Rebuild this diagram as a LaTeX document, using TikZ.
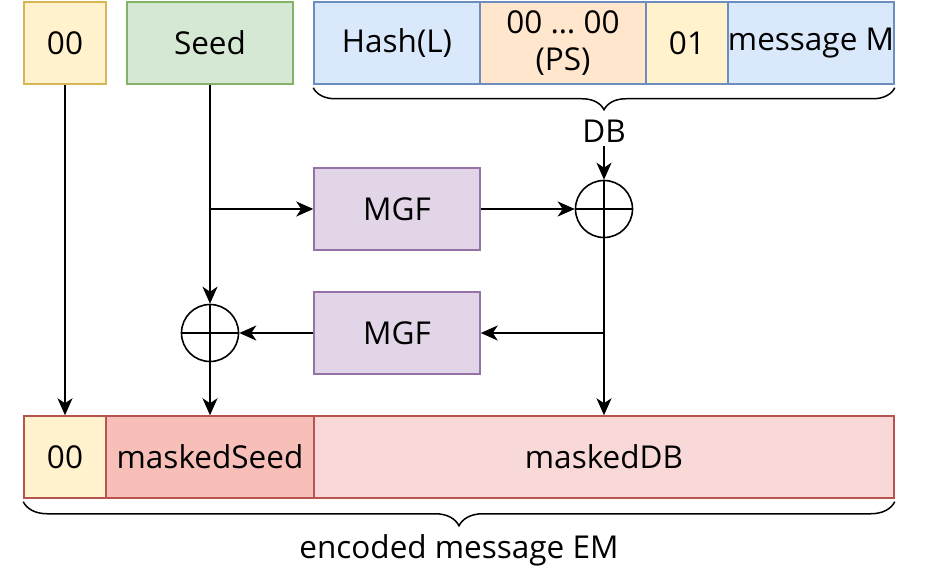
\documentclass[tikz,border=0pt]{standalone}
\usepackage{fontspec}
\setmainfont{Open Sans}
\usepackage{xcolor}
\usepackage{tikz}
\usetikzlibrary{arrows.meta,decorations.pathreplacing}

\definecolor{yelfill}{HTML}{FFF2CC}
\definecolor{yelline}{HTML}{D6B656}
\definecolor{grnfill}{HTML}{D5E8D4}
\definecolor{grnline}{HTML}{82B366}
\definecolor{blufill}{HTML}{DAE8FC}
\definecolor{bluline}{HTML}{6C8EBF}
\definecolor{orgfill}{HTML}{FFE6CC}
\definecolor{purfill}{HTML}{E1D5E7}
\definecolor{purline}{HTML}{9673A6}
\definecolor{redfill}{HTML}{F8BFB9}
\definecolor{pnkfill}{HTML}{F8D9D8}
\definecolor{redline}{HTML}{B85450}

\begin{document}
\begin{tikzpicture}[x=1pt,y=-1pt,
  >={Stealth[length=17pt,width=15pt,inset=5pt]},
  txt/.style={font=\fontsize{31.5}{37}\selectfont},
  cell/.style={txt, draw, line width=1.5pt, inner sep=0pt, minimum height=82pt, align=center},
  xor/.style={circle, draw, line width=1.6pt, minimum size=57pt, inner sep=0pt},
  flow/.style={->, line width=1.9pt}]
\useasboundingbox (0,0) rectangle (930,583);

% input row
\node[cell, fill=yelfill, draw=yelline, minimum width=82pt] (zerotop) at (65,43) {00};
\node[cell, fill=grnfill, draw=grnline, minimum width=166pt] (seed) at (210,43) {Seed};
\node[cell, fill=blufill, draw=bluline, minimum width=166pt] (hash) at (397,43) {Hash(L)};
\node[cell, fill=orgfill, draw=bluline, minimum width=166pt] (ps) at (563,43) {00 … 00\\(PS)};
\node[cell, fill=yelfill, draw=bluline, minimum width=82pt] (one) at (687,43) {01};
\node[cell, fill=blufill, draw=bluline, minimum width=166pt] (msg) at (811,43) {message M};
\draw[line width=1.5pt, decorate, decoration={brace, mirror, amplitude=22pt}]
  ([yshift=-3pt]hash.south west) -- ([yshift=-3pt]msg.south east);
\node[txt] (db) at (604,131) {DB};

% masking
\node[cell, fill=purfill, draw=purline, minimum width=166pt] (mgftop) at (397,209) {MGF};
\node[cell, fill=purfill, draw=purline, minimum width=166pt] (mgfbot) at (397,333) {MGF};
\node[xor] (xortop) at (604,209) {};
\node[xor] (xorbot) at (210,333) {};
\draw[line width=1.2pt] (xortop.north) -- (xortop.south) (xortop.west) -- (xortop.east);
\draw[line width=1.2pt] (xorbot.north) -- (xorbot.south) (xorbot.west) -- (xorbot.east);

% encoded message
\node[cell, fill=yelfill, draw=redline, minimum width=82pt] (zerobot) at (65,457) {00};
\node[cell, fill=redfill, draw=redline, minimum width=208pt] (mseed) at (210,457) {maskedSeed};
\node[cell, fill=pnkfill, draw=redline, minimum width=580pt] (mdb) at (604,457) {maskedDB};
\draw[line width=1.5pt, decorate, decoration={brace, mirror, amplitude=24pt}]
  ([yshift=-3pt]zerobot.south west) -- ([yshift=-3pt]mdb.south east);
\node[txt] (em) at (459,550) {encoded message EM};

% connectors
\coordinate (split1) at (seed |- mgftop);
\coordinate (split2) at (xortop |- mgfbot);
\draw[flow] (zerotop) -- (zerobot);
\draw[flow] (seed) -- (xorbot);
\draw[flow] (split1) -- (mgftop);
\draw[flow] (mgftop) -- (xortop);
\draw[flow] (db) -- (xortop);
\draw[flow] (xortop) -- (mdb);
\draw[flow] (split2) -- (mgfbot);
\draw[flow] (mgfbot) -- (xorbot);
\draw[flow] (xorbot) -- (mseed);
\end{tikzpicture}
\end{document}
